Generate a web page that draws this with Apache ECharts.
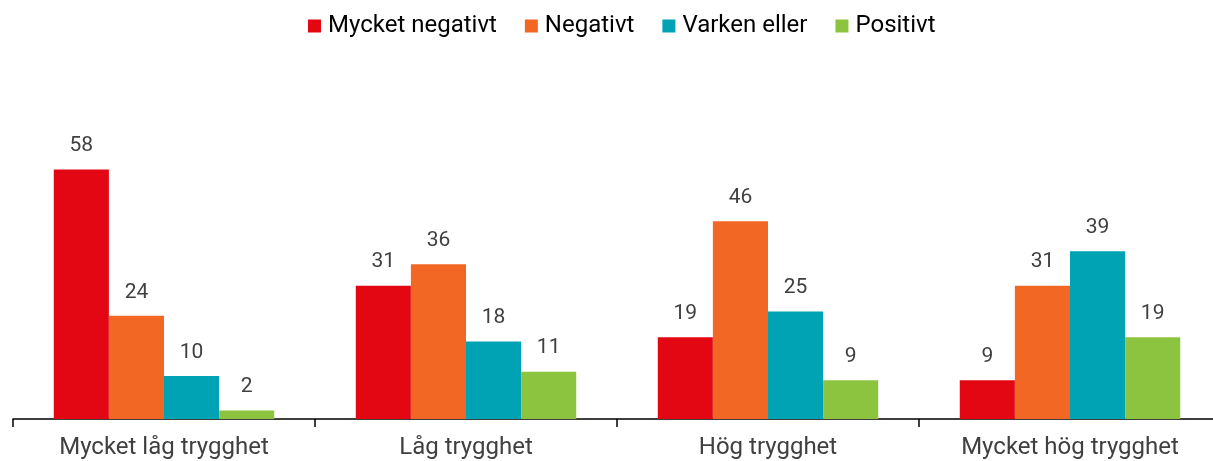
<!DOCTYPE html>
<html>
<head>
<meta charset="utf-8">
<script src="https://cdn.jsdelivr.net/npm/echarts@6/dist/echarts.min.js"></script>
<style>
html, body { margin: 0; padding: 0; background: #fff; }
#chart { width: 1213px; height: 461px; }
</style>
</head>
<body>
<div id="chart"></div>
<script>
// 类别与数据
var categories = ['Mycket låg trygghet', 'Låg trygghet', 'Hög trygghet', 'Mycket hög trygghet'];
var seriesNames = ['Mycket negativt', 'Negativt', 'Varken eller', 'Positivt'];
var mycketNegativt = [58, 31, 19, 9];
var negativt = [24, 36, 46, 31];
var varkenEller = [10, 18, 25, 39];
var positivt = [2, 11, 9, 19];
var colors = ['#e30613', '#f26724', '#00a3b4', '#8dc43f'];

var chart = echarts.init(document.getElementById('chart'));

function makeSeries(name, data, color) {
	return {
		name: name,
		type: 'bar',
		data: data,
		barGap: 0,
		barCategoryGap: '27%',
		itemStyle: { color: color },
		label: {
			show: true,
			position: 'top',
			distance: 13,
			color: '#404040',
			fontFamily: 'Roboto',
			fontSize: 21
		}
	};
}

chart.setOption({
	animation: false,
	legend: {
		top: 14,
		left: 308,
		padding: 0,
		itemWidth: 13,
		itemHeight: 13,
		itemGap: 28,
		icon: 'rect',
		textStyle: { color: '#000', fontFamily: 'Roboto', fontSize: 24, padding: [0, 0, 0, 2] },
		data: seriesNames
	},
	// 右侧类目延伸出画面
	grid: { left: 13, width: 1208, top: 161, bottom: 42, outerBoundsMode: 'none', containLabel: false },
	xAxis: {
		type: 'category',
		data: categories,
		axisLine: { lineStyle: { color: '#000', width: 1.5 } },
		axisTick: { show: true, length: 8, lineStyle: { color: '#000', width: 1.5 } },
		axisLabel: { color: '#404040', fontFamily: 'Roboto', fontSize: 24, margin: 17 }
	},
	yAxis: {
		type: 'value',
		min: 0,
		max: 60,
		show: false,
		splitLine: { show: false }
	},
	series: [
		makeSeries(seriesNames[0], mycketNegativt, colors[0]),
		makeSeries(seriesNames[1], negativt, colors[1]),
		makeSeries(seriesNames[2], varkenEller, colors[2]),
		makeSeries(seriesNames[3], positivt, colors[3])
	]
});
</script>
</body>
</html>
